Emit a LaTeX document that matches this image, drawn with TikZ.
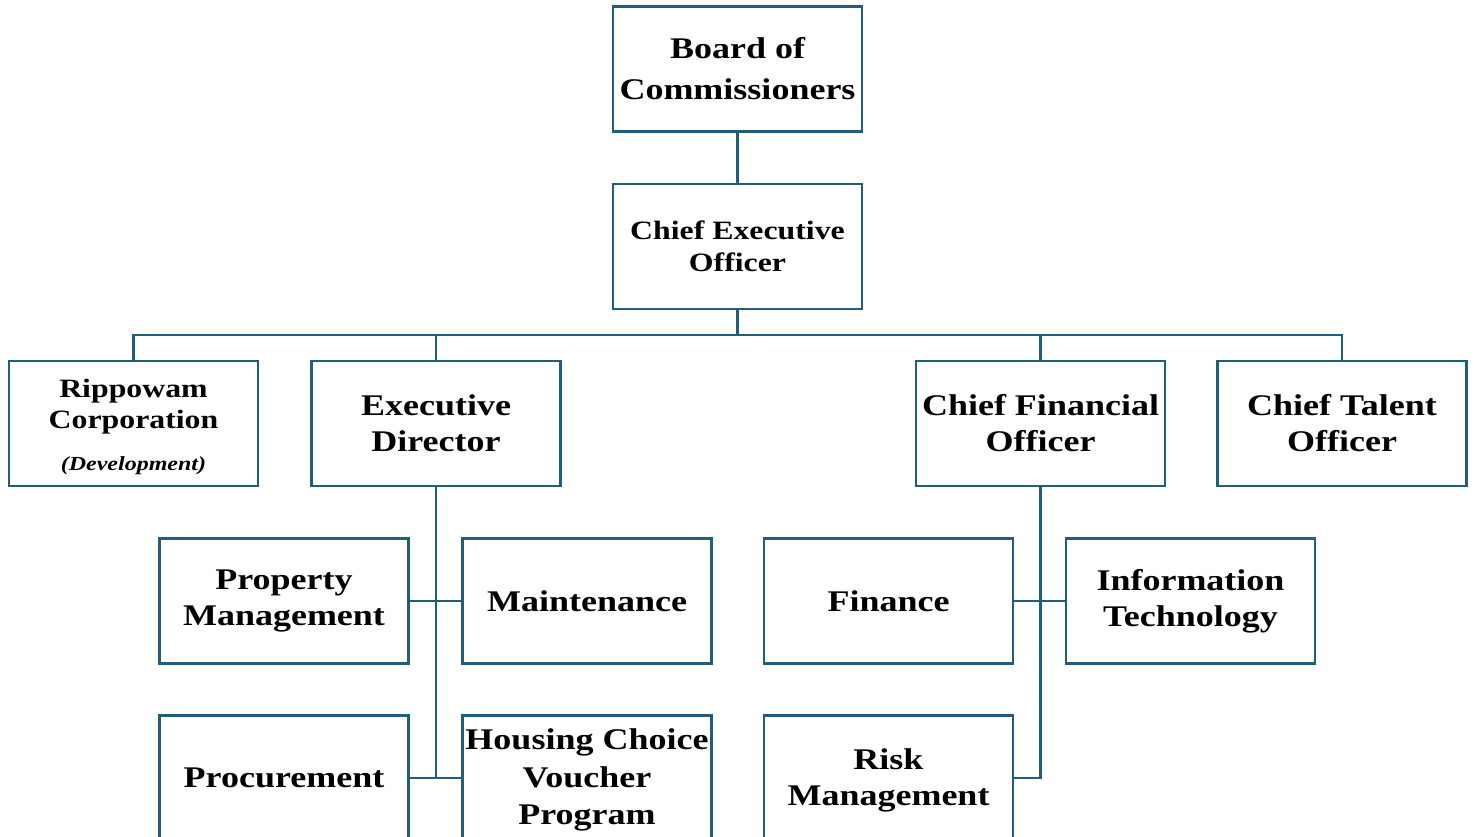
\documentclass[tikz,border=0pt]{standalone}
\usepackage{fontspec}
\setmainfont{Liberation Serif}[FakeStretch=1.2]
\usetikzlibrary{calc}
\definecolor{linec}{RGB}{33,94,124}
\tikzset{
  orgbox/.style={draw=linec, line width=2.9pt, minimum width=249pt, minimum height=125pt, inner sep=0pt, align=center, font=\bfseries\fontsize{30}{36}\selectfont},
  conn/.style={draw=linec, line width=2.9pt},
  smalltxt/.style={font=\bfseries\fontsize{26.5}{32}\selectfont},
  plaintxt/.style={inner sep=0pt, align=center, font=\bfseries\fontsize{30}{36}\selectfont},
}
\begin{document}
\begin{tikzpicture}[x=1pt,y=-1pt]
\useasboundingbox (0,0) rectangle (1474,837);
\node[orgbox, font=\bfseries\fontsize{30}{41}\selectfont] (board) at (737.5,69) {Board of\\Commissioners};
\node[orgbox, smalltxt] (ceo) at (737.5,246.5) {Chief Executive\\Officer};
\node[orgbox] (rip) at (133.5,423.5) {};
\node[align=center, inner sep=0pt, font=\bfseries\fontsize{26.5}{31.5}\selectfont] (ripT) at (133.5,406.5) {Rippowam\\Corporation};
\node[inner sep=0pt, font=\bfseries\itshape\fontsize{20}{24}\selectfont] (ripD) at (133.5,465.5) {(Development)};
\node[orgbox] (ed) at (436,423.5) {Executive\\Director};
\node[orgbox] (cfo) at (1040.5,423.5) {Chief Financial\\Officer};
\node[orgbox] (cto) at (1342,423.5) {Chief Talent\\Officer};
\node[orgbox] (pm) at (284,601) {Property\\Management};
\node[orgbox] (maint) at (587,601) {Maintenance};
\node[orgbox] (fin) at (888.5,601) {Finance};
\node[orgbox] (it) at (1190.5,601) {Information\\Technology};
\node[orgbox] (proc) at (284,778) {Procurement};
\node[orgbox] (hcv) at (587,778) {};
\node[plaintxt, font=\bfseries\fontsize{30}{37.5}\selectfont] (hcvT) at (587,780) {Housing Choice\\Voucher\\Program};
\node[orgbox] (risk) at (888.5,778) {};
\node[plaintxt] (riskT) at (888.5,780) {Risk\\Management};
\coordinate (bus) at (737.5,335);
\draw[conn] (board.south) -- (ceo.north);
\draw[conn] (ceo.south) -- (bus);
\draw[conn] (rip.north) -- (rip.north |- bus) -- (cto.north |- bus) -- (cto.north);
\draw[conn] (ed.north) -- (ed.north |- bus);
\draw[conn] (cfo.north) -- (cfo.north |- bus);
\draw[conn] (ed.south) -- (ed.south |- proc.east);
\draw[conn] (pm.east) -- (maint.west);
\draw[conn] (proc.east) -- (hcv.west);
\draw[conn] (cfo.south) -- (cfo.south |- risk.east) -- (risk.east);
\draw[conn] (fin.east) -- (it.west);
\end{tikzpicture}
\end{document}
